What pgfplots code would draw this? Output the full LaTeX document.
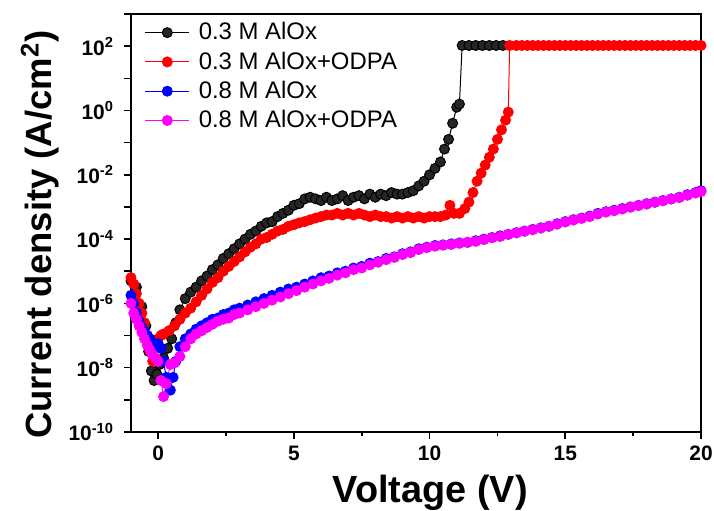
\documentclass[border=0pt]{standalone}
\usepackage{fontspec}
\setmainfont{Liberation Sans}
\usepackage{pgfplots}
\pgfplotsset{compat=1.18}

\definecolor{cmag}{RGB}{255,0,255}

\begin{document}
\begin{tikzpicture}
\begin{axis}[
    name=ax,
    scale only axis,
    width=285bp, height=209bp,
    xmin=-1, xmax=20,
    ymode=log, ymin=1e-10, ymax=1e3,
    log basis y=10,
    axis line style={line width=1bp},
    tick align=outside,
    xtick pos=left, ytick pos=left,
    major tick length=3.5bp, minor tick length=2bp,
    every tick/.style={black, line width=0.8bp},
    xtick={0,5,10,15,20},
    xticklabels={0,5,10,15,20},
    minor x tick num=1,
    ytick={1e-10,1e-9,1e-8,1e-7,1e-6,1e-5,1e-4,1e-3,1e-2,1e-1,1,1e1,1e2,1e3},
    yticklabels={10\textsuperscript{-10},,10\textsuperscript{-8},,10\textsuperscript{-6},,10\textsuperscript{-4},,10\textsuperscript{-2},,10\textsuperscript{0},,10\textsuperscript{2},},
    ticklabel style={font=\bfseries\fontsize{10.5}{12}\selectfont},
    yticklabel style={xshift=-1.5bp},
    xlabel={\bfseries Voltage (V)},
    ylabel={\bfseries Current density (A/cm\textsuperscript{2})},
    xlabel style={font=\fontsize{19}{22}\selectfont, at={(axis description cs:0.525,-0.145)}, anchor=center},
    ylabel style={font=\fontsize{18.3}{22}\selectfont, at={(axis description cs:-0.16,0.472)}, anchor=center},
    legend style={at={(axis description cs:0.02,0.995)}, anchor=north west,
        draw=none, fill=none, font=\fontsize{12}{14}\selectfont,
        row sep=0.5bp, column sep=2.5bp, inner sep=1bp},
    legend cell align=left,
    legend image code/.code={\draw[mark repeat=2,mark phase=2] plot coordinates {(0bp,0bp) (11bp,0bp) (22bp,0bp)};},
    every axis plot/.append style={line width=0.5bp, mark=*, mark size=2.5pt},
]
% 0.3 M AlOx
\addplot[black, mark options={fill=black!85}] coordinates {
(-1.0,5.0e-6) (-0.8,3.2e-6) (-0.6,7.9e-7) (-0.45,2.0e-7) (-0.35,3.2e-8) (-0.25,7.9e-9)
(-0.15,4.0e-9) (-0.05,6.3e-9) (0.05,1.26e-8) (0.2,2.0e-8) (0.35,4.0e-8) (0.5,7.9e-8)
(0.65,2.5e-7) (0.8,6.3e-7) (1.0,1.41e-6) (1.2,2.24e-6) (1.4,3.2e-6) (1.6,5.0e-6)
(1.8,7.1e-6) (2.0,1.12e-5) (2.2,1.58e-5) (2.4,2.5e-5) (2.6,3.5e-5) (2.8,5.0e-5)
(3.0,7.1e-5) (3.2,1.0e-4) (3.4,1.41e-4) (3.6,1.78e-4) (3.8,2.5e-4) (4.0,3.2e-4)
(4.2,3.5e-4) (4.4,5.0e-4) (4.6,6.3e-4) (4.8,7.9e-4) (5.0,1.12e-3) (5.2,1.26e-3)
(5.4,1.78e-3) (5.6,2.0e-3) (5.8,1.78e-3) (6.0,1.58e-3) (6.2,2.0e-3) (6.4,1.58e-3)
(6.6,1.78e-3) (6.8,2.24e-3) (7.0,1.58e-3) (7.2,2.0e-3) (7.4,2.24e-3) (7.6,1.78e-3)
(7.8,2.5e-3) (8.0,2.0e-3) (8.2,2.5e-3) (8.4,2.24e-3) (8.6,2.8e-3) (8.8,2.5e-3)
(9.0,2.5e-3) (9.2,2.8e-3) (9.4,3.2e-3) (9.6,4.5e-3) (9.8,6.3e-3) (10.0,1.0e-2)
(10.2,1.58e-2) (10.4,2.5e-2) (10.55,6.3e-2) (10.7,0.126) (10.85,0.40) (11.0,1.26)
(11.1,1.58) (11.2,105) (11.45,105) (11.7,105) (11.95,105) (12.2,105) (12.45,105) (12.7,105)
};
\addlegendentry{0.3 M AlOx}
% 0.3 M AlOx+ODPA
\addplot[red, mark options={fill=red}] coordinates {
(-1.0,6.3e-6) (-0.9,4.0e-6) (-0.8,2.0e-6) (-0.7,1.0e-6) (-0.6,5.0e-7) (-0.5,2.5e-7)
(-0.4,1.0e-7) (-0.3,3.2e-8) (-0.2,1.58e-8) (-0.1,2.0e-8) (0.0,7.9e-8) (0.1,1.0e-7)
(0.2,1.12e-7) (0.4,1.41e-7) (0.6,2.0e-7) (0.8,3.2e-7) (1.0,5.0e-7) (1.2,7.1e-7)
(1.4,1.12e-6) (1.6,1.78e-6) (1.8,2.8e-6) (2.0,4.5e-6) (2.2,6.3e-6) (2.4,1.0e-5)
(2.6,1.41e-5) (2.8,2.0e-5) (3.0,2.8e-5) (3.2,4.0e-5) (3.4,5.6e-5) (3.6,7.1e-5)
(3.8,1.0e-4) (4.0,1.12e-4) (4.2,1.41e-4) (4.4,1.78e-4) (4.6,2.0e-4) (4.8,2.5e-4)
(5.0,2.8e-4) (5.2,3.2e-4) (5.4,3.5e-4) (5.6,4.0e-4) (5.8,4.5e-4) (6.0,5.0e-4)
(6.2,5.6e-4) (6.4,5.6e-4) (6.6,6.3e-4) (6.8,5.6e-4) (7.0,6.3e-4) (7.2,5.6e-4)
(7.4,6.3e-4) (7.6,5.6e-4) (7.8,5.0e-4) (8.0,5.6e-4) (8.2,5.0e-4) (8.4,5.0e-4)
(8.6,4.5e-4) (8.8,5.0e-4) (9.0,4.5e-4) (9.2,5.0e-4) (9.4,4.5e-4) (9.6,5.0e-4)
(9.8,4.5e-4) (10.0,5.0e-4) (10.2,5.0e-4) (10.4,5.0e-4) (10.6,5.6e-4) (10.75,1.12e-3)
(10.9,6.3e-4) (11.1,6.3e-4) (11.3,8.9e-4) (11.45,1.41e-3) (11.6,2.8e-3) (11.75,6.3e-3)
(11.9,1.12e-2) (12.05,2.0e-2) (12.2,3.5e-2) (12.35,6.3e-2) (12.5,0.126) (12.65,0.25)
(12.8,0.50) (12.9,0.89) (12.95,105) (13.2,105) (13.4,105) (13.6,105) (13.8,105)
(14.0,105) (14.2,105) (14.4,105) (14.6,105) (14.8,105) (15.0,105) (15.2,105)
(15.4,105) (15.6,105) (15.8,105) (16.0,105) (16.2,105) (16.4,105) (16.6,105)
(16.8,105) (17.0,105) (17.2,105) (17.4,105) (17.6,105) (17.8,105) (18.0,105)
(18.2,105) (18.4,105) (18.6,105) (18.8,105) (19.0,105) (19.2,105) (19.4,105)
(19.6,105) (19.8,105) (20.0,105)
};
\addlegendentry{0.3 M AlOx+ODPA}
% 0.8 M AlOx
\addplot[blue, mark options={fill=blue}] coordinates {
(-1.0,1.78e-6) (-0.9,1.0e-6) (-0.8,5.0e-7) (-0.7,2.8e-7) (-0.6,1.78e-7) (-0.5,1.26e-7)
(-0.4,1.0e-7) (-0.3,7.9e-8) (-0.2,5.6e-8) (-0.1,5.0e-8) (0.0,5.6e-8) (0.1,4.0e-8)
(0.2,1.58e-8) (0.3,5.0e-9) (0.45,2.0e-9) (0.55,5.0e-9) (0.65,1.58e-8) (0.8,4.5e-8)
(1.0,7.9e-8) (1.2,1.12e-7) (1.4,1.58e-7) (1.6,2.0e-7) (1.8,2.5e-7) (2.0,3.2e-7)
(2.2,3.5e-7) (2.4,4.5e-7) (2.6,5.0e-7) (2.8,6.3e-7) (3.0,7.1e-7) (3.3,8.9e-7)
(3.6,1.12e-6) (3.9,1.41e-6) (4.2,1.78e-6) (4.5,2.24e-6) (4.8,2.8e-6) (5.1,3.2e-6)
(5.4,4.0e-6) (5.7,5.0e-6) (6.0,6.3e-6) (6.3,7.1e-6) (6.6,8.9e-6) (6.9,1.0e-5)
(7.2,1.26e-5) (7.5,1.41e-5) (7.8,1.78e-5) (8.1,2.0e-5) (8.4,2.5e-5) (8.7,2.8e-5)
(9.0,3.5e-5) (9.3,4.0e-5) (9.6,5.0e-5) (9.9,5.6e-5) (10.2,6.3e-5) (10.5,6.6e-5)
(10.8,7.1e-5) (11.1,7.6e-5) (11.4,7.9e-5) (11.7,8.9e-5) (12.0,1.0e-4) (12.3,1.12e-4)
(12.6,1.26e-4) (12.9,1.41e-4) (13.2,1.58e-4) (13.5,1.78e-4) (13.8,2.0e-4) (14.1,2.24e-4)
(14.4,2.5e-4) (14.7,3.0e-4) (15.0,3.5e-4) (15.3,4.0e-4) (15.6,4.5e-4) (15.9,5.2e-4)
(16.2,6.3e-4) (16.5,7.1e-4) (16.8,7.9e-4) (17.1,8.9e-4) (17.4,1.0e-3) (17.7,1.12e-3)
(18.0,1.26e-3) (18.3,1.41e-3) (18.6,1.58e-3) (18.9,1.78e-3) (19.2,2.0e-3) (19.5,2.4e-3)
(19.8,2.8e-3) (20.0,3.2e-3)
};
\addlegendentry{0.8 M AlOx}
% 0.8 M AlOx+ODPA
\addplot[cmag, mark options={fill=cmag}] coordinates {
(-1.0,1.0e-6) (-0.9,5.0e-7) (-0.8,3.2e-7) (-0.7,2.0e-7) (-0.6,1.26e-7) (-0.5,7.9e-8)
(-0.4,5.0e-8) (-0.3,3.5e-8) (-0.2,2.5e-8) (-0.1,2.0e-8) (0.0,1.58e-8) (0.1,4.0e-9)
(0.2,1.26e-9) (0.3,3.2e-9) (0.45,1.26e-8) (0.6,1.41e-8) (0.8,2.24e-8) (1.0,4.5e-8)
(1.2,7.9e-8) (1.4,1.12e-7) (1.6,1.41e-7) (1.8,1.78e-7) (2.0,2.24e-7) (2.2,2.8e-7)
(2.4,3.2e-7) (2.6,3.5e-7) (2.8,4.5e-7) (3.0,5.0e-7) (3.3,6.3e-7) (3.6,7.9e-7)
(3.9,1.0e-6) (4.2,1.26e-6) (4.5,1.58e-6) (4.8,2.0e-6) (5.1,2.5e-6) (5.4,3.2e-6)
(5.7,4.0e-6) (6.0,5.0e-6) (6.3,6.0e-6) (6.6,7.6e-6) (6.9,8.9e-6) (7.2,1.12e-5)
(7.5,1.26e-5) (7.8,1.58e-5) (8.1,1.9e-5) (8.4,2.3e-5) (8.7,2.7e-5) (9.0,3.3e-5)
(9.3,3.8e-5) (9.6,4.7e-5) (9.9,5.4e-5) (10.2,6.0e-5) (10.5,6.5e-5) (10.8,6.8e-5)
(11.1,7.4e-5) (11.4,7.9e-5) (11.7,8.5e-5) (12.0,9.6e-5) (12.3,1.1e-4) (12.6,1.2e-4)
(12.9,1.4e-4) (13.2,1.55e-4) (13.5,1.75e-4) (13.8,1.95e-4) (14.1,2.2e-4) (14.4,2.5e-4)
(14.7,2.9e-4) (15.0,3.4e-4) (15.3,3.9e-4) (15.6,4.4e-4) (15.9,5.0e-4) (16.2,6.0e-4)
(16.5,6.9e-4) (16.8,7.6e-4) (17.1,8.6e-4) (17.4,9.8e-4) (17.7,1.1e-3) (18.0,1.22e-3)
(18.3,1.38e-3) (18.6,1.55e-3) (18.9,1.75e-3) (19.2,1.95e-3) (19.5,2.3e-3) (19.8,2.7e-3)
(20.0,3.0e-3)
};
\addlegendentry{0.8 M AlOx+ODPA}
\end{axis}
\pgfresetboundingbox
\path[use as bounding box] ([xshift=-65.5bp,yshift=-39.5bp]ax.south west) rectangle ([xshift=6.5bp,yshift=7bp]ax.north east);
\end{tikzpicture}
\end{document}
